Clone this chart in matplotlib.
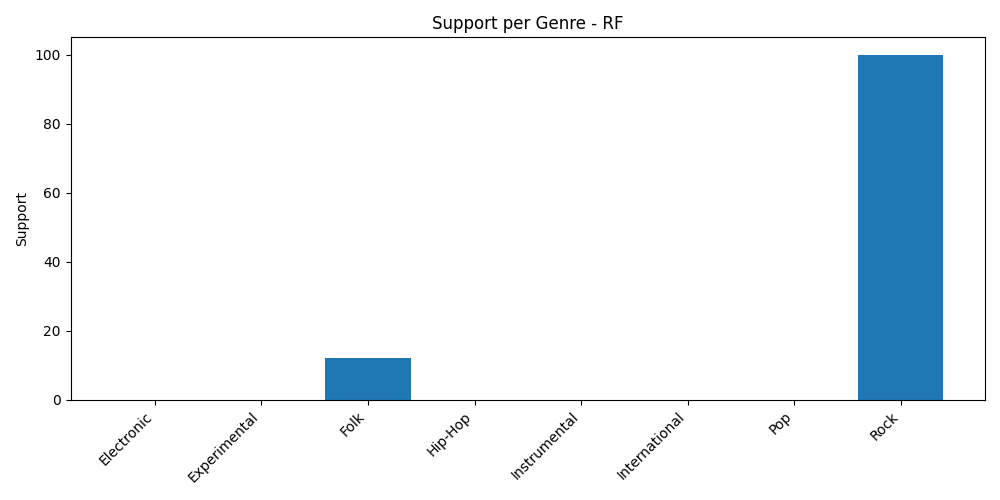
import matplotlib
matplotlib.use('Agg')
import matplotlib.pyplot as plt

genres = ['Electronic', 'Experimental', 'Folk', 'Hip-Hop', 'Instrumental',
          'International', 'Pop', 'Rock']
support = [0, 0, 12, 0, 0, 0, 0, 100]

fig, ax = plt.subplots(figsize=(10, 5), dpi=100)
ax.bar(genres, support, color='#1f77b4')
ax.set_ylabel('Support')
ax.set_title('Support per Genre - RF')
plt.xticks(rotation=45, ha='right')
plt.tight_layout()
plt.savefig('out.png')
